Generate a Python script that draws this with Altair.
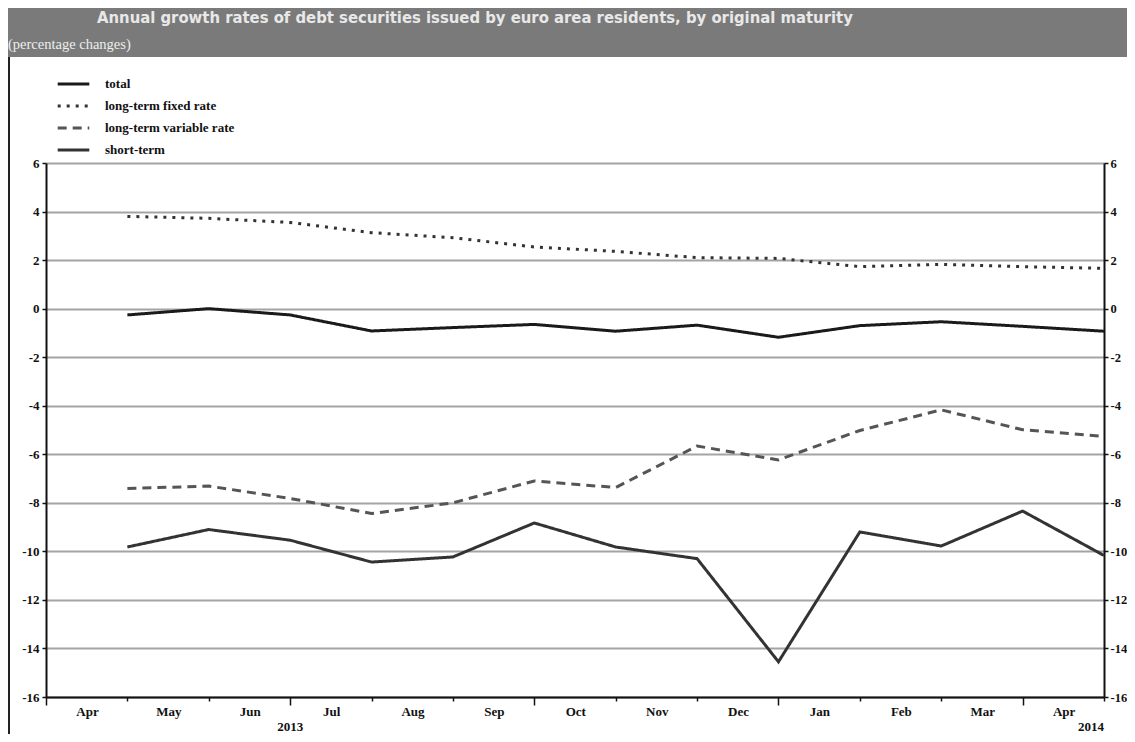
import altair as alt
import pandas as pd

# ---------------- data ----------------
months = ["Apr", "May", "Jun", "Jul", "Aug", "Sep", "Oct", "Nov", "Dec", "Jan", "Feb", "Mar", "Apr"]
point_index = list(range(1, 14))  # end of month positions
series_names = ["total", "long-term fixed rate", "long-term variable rate", "short-term"]
total = [-0.26, 0.0, -0.26, -0.92, -0.78, -0.65, -0.93, -0.68, -1.18, -0.70, -0.54, -0.73, -0.93]
fixed_rate = [3.8, 3.72, 3.55, 3.13, 2.92, 2.54, 2.36, 2.1, 2.07, 1.73, 1.82, 1.73, 1.66]
variable_rate = [-7.41, -7.31, -7.82, -8.44, -8.0, -7.1, -7.37, -5.66, -6.23, -5.02, -4.17, -4.99, -5.27]
short_term = [-9.82, -9.10, -9.54, -10.44, -10.23, -8.83, -9.82, -10.3, -14.55, -9.2, -9.78, -8.34, -10.17]
years = ["2013", "2014"]
year_pos = [3, 13]
y_ticks = list(range(-16, 7, 2))
title_text = "Annual growth rates of debt securities issued by euro area residents, by original maturity"
subtitle_text = "(percentage changes)"

rows = []
for name, vals in zip(series_names, [total, fixed_rate, variable_rate, short_term]):
    for i, v in zip(point_index, vals):
        rows.append({"series": name, "t": i, "value": v})
df = pd.DataFrame(rows)
df_year1 = pd.DataFrame({"year": years[:1], "pos": year_pos[:1]})
df_year2 = pd.DataFrame({"year": years[1:], "pos": year_pos[1:]})
df_one = pd.DataFrame({"title": [title_text], "subtitle": [subtitle_text]})

# ---------------- layout ----------------
W, H = 1058, 534
PAD_L, PAD_T, PAD_R, PAD_B = 38, 155, 23, 37
SERIF = "Liberation Serif, Times New Roman, serif"

x_scale = alt.Scale(domain=[0, 13], nice=False, zero=False)
y_scale = alt.Scale(domain=[-16, 6], nice=False, zero=False)

label_expr = "[" + ",".join("'%s'" % m for m in months) + "][datum.value] || ''"
quarter = "datum.value % 3 == 0"

x_axis = alt.Axis(
    values=list(range(0, 14)), labelExpr=label_expr, labelOffset=41, labelOverlap=False,
    labelFlush=False, labelBound=False, grid=False, domainColor="#111", domainWidth=2,
    tickColor="#111", tickWidth=1.5,
    tickSize={"condition": {"test": quarter, "value": 8}, "value": 4},
    labelPadding={"condition": {"test": quarter, "value": 0}, "value": 4},
    labelFont=SERIF, labelFontSize=13, labelFontWeight="bold", labelColor="#111",
    title=None,
)
y_axis_left = alt.Axis(
    values=y_ticks, labelExpr="'' + datum.value", grid=True, gridColor="#a4a4a4", gridWidth=2,
    domainColor="#111", domainWidth=2, tickColor="#111", tickWidth=1.5, tickSize=4,
    labelFont=SERIF, labelFontSize=13, labelFontWeight="bold", labelColor="#111",
    labelPadding=3, title=None,
)
y_axis_right = alt.Axis(
    orient="right", values=y_ticks, labelExpr="'' + datum.value", grid=False,
    domainColor="#111", domainWidth=2, tickColor="#111", tickWidth=1.5, tickSize=4,
    labelFont=SERIF, labelFontSize=12.5, labelFontWeight="bold", labelColor="#111",
    labelPadding=2, title=None,
)

legend = alt.Legend(
    title=None, orient="none", legendX=10, legendY=-90, symbolType="stroke",
    symbolSize=1000, labelFont=SERIF, labelFontSize=13, labelFontWeight="bold",
    labelColor="#111", labelOffset=14, rowPadding=0, clipHeight=22,
)

banner = alt.Chart(df_one).mark_rect(color="#7a7a7a").encode(
    x=alt.value(-PAD_L), x2=alt.value(W + PAD_R),
    y=alt.value(-PAD_T), y2=alt.value(-106),
)
title = alt.Chart(df_one).mark_text(
    align="left", baseline="middle", font="DejaVu Sans Condensed, DejaVu Sans, sans-serif",
    fontSize=16.5, fontWeight="bold", color="#e8e8e8",
).encode(x=alt.value(51), y=alt.value(-145), text="title:N")
subtitle = alt.Chart(df_one).mark_text(
    align="left", baseline="middle", font=SERIF, fontSize=14.5, color="#eeeeee",
).encode(x=alt.value(-38), y=alt.value(-118), text="subtitle:N")
border = alt.Chart(df_one).mark_rule(color="#222", strokeWidth=2).encode(
    x=alt.value(-37), y=alt.value(-106), y2=alt.value(H + PAD_B),
)

lines = alt.Chart(df).mark_line(strokeCap="butt").encode(
    x=alt.X("t:Q", scale=x_scale, axis=x_axis),
    y=alt.Y("value:Q", scale=y_scale, axis=y_axis_left),
    color=alt.Color("series:N", scale=alt.Scale(domain=series_names,
                    range=["#1a1a1a", "#333333", "#555555", "#333333"]), legend=legend),
    strokeDash=alt.StrokeDash("series:N", scale=alt.Scale(domain=series_names,
                    range=[[1, 0], [3, 6], [9, 6], [1, 0]]), legend=legend),
    strokeWidth=alt.StrokeWidth("series:N", scale=alt.Scale(domain=series_names,
                    range=[3, 3, 2.6, 1.4]), legend=legend),
)

right_axis = alt.Chart(df).mark_point(opacity=0).encode(
    x=alt.X("t:Q", scale=x_scale, axis=None),
    y=alt.Y("value:Q", scale=y_scale, axis=y_axis_right),
)

year_style = dict(baseline="middle", font=SERIF, fontSize=13, fontWeight="bold", color="#111")
year_text1 = alt.Chart(df_year1).mark_text(align="center", **year_style).encode(
    x=alt.X("pos:Q", scale=x_scale, axis=None), y=alt.value(H + 30), text="year:N",
)
year_text2 = alt.Chart(df_year2).mark_text(align="right", **year_style).encode(
    x=alt.X("pos:Q", scale=x_scale, axis=None), y=alt.value(H + 30), text="year:N",
)

chart = alt.layer(banner, title, subtitle, border, lines, right_axis, year_text1, year_text2).resolve_axis(
    x="independent", y="independent"
).properties(
    width=W, height=H, autosize=alt.AutoSizeParams(type="none"),
    padding={"left": PAD_L, "top": PAD_T, "right": PAD_R, "bottom": PAD_B},
    background="white",
).configure_view(stroke=None)

chart.save("out.html", embed_options={"renderer": "svg", "actions": False})
